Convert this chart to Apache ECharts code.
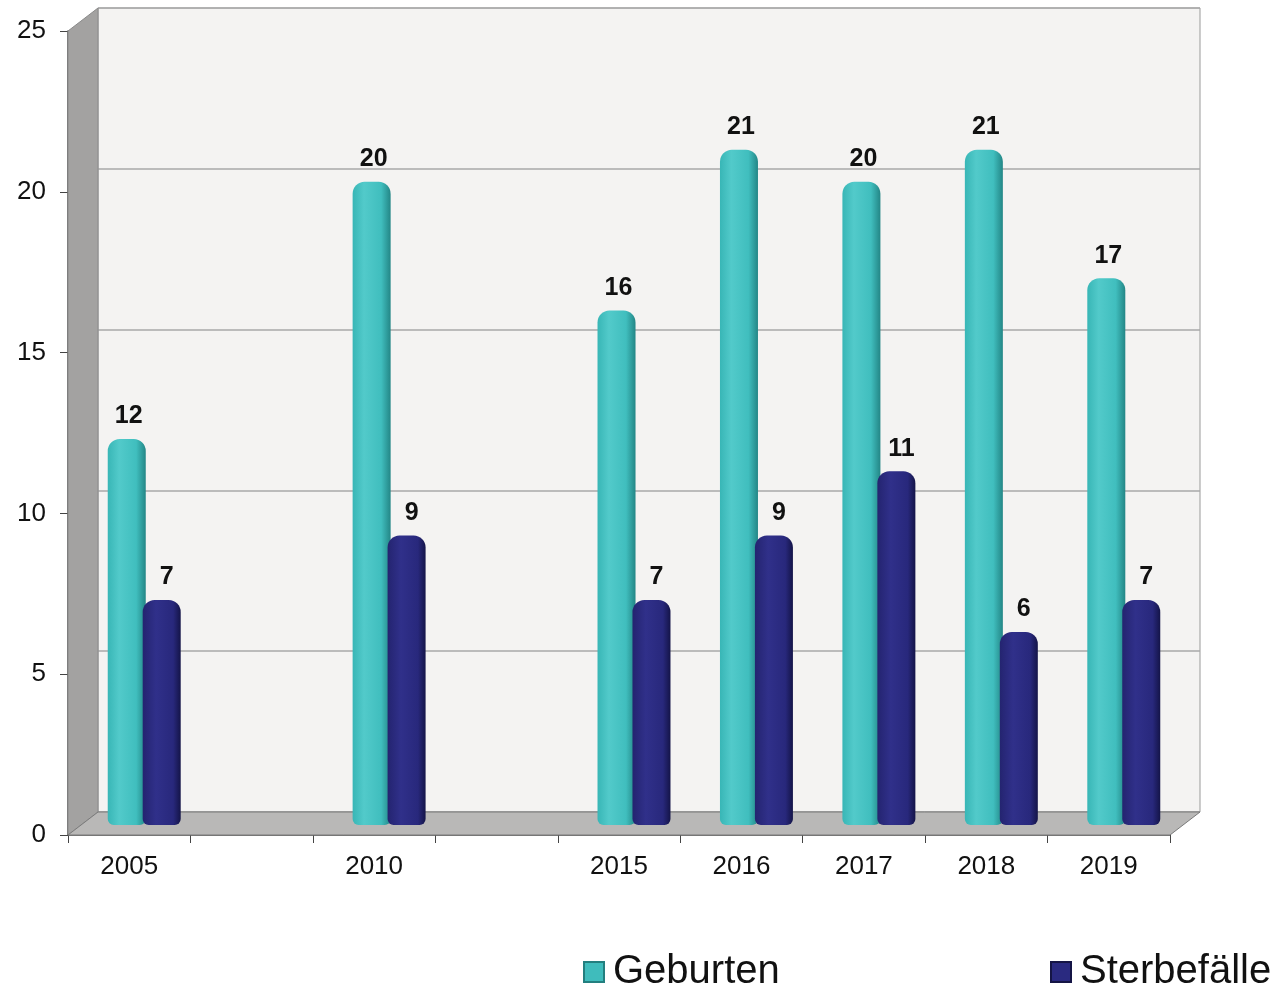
<!DOCTYPE html>
<html>
<head>
<meta charset="utf-8">
<script src="https://cdn.jsdelivr.net/npm/echarts@6/dist/echarts.min.js"></script>
<style>
  html, body { margin: 0; padding: 0; background: #fff; }
  #chart { width: 1274px; height: 986px; }
</style>
</head>
<body>
<div id="chart"></div>
<script>
var years = ['2005', ' ', '2010', '  ', '2015', '2016', '2017', '2018', '2019'];
var geburten = [12, null, 20, null, 16, 21, 20, 21, 17];
var sterbefaelle = [7, null, 9, null, 7, 9, 11, 6, 7];
var yTicks = { min: 0, max: 25, interval: 5 };

var font = 'Liberation Sans, Arial, sans-serif';
var chart = echarts.init(document.getElementById('chart'));

function grad(stops) {
	return new echarts.graphic.LinearGradient(0, 0, 1, 0, stops);
}

function legendAt(left, name, fill, border) {
	return {
		left: left,
		top: 952,
		padding: 0,
		itemWidth: 20,
		itemHeight: 20,
		icon: 'rect',
		textStyle: { fontSize: 40, fontFamily: font, color: '#111', padding: [0, 0, 0, 4] },
		data: [{ name: name, itemStyle: { color: fill, borderColor: border, borderWidth: 2 } }]
	};
}

var option = {
	backgroundColor: '#ffffff',
	animation: false,
	grid: [
		// back wall
		{ left: 98, right: 74, top: 8, bottom: 174, show: true, backgroundColor: '#f4f3f2', borderColor: '#9a9a9a', borderWidth: 1 },
		// bars, mid depth
		{ left: 83, right: 89, top: 21, bottom: 161 },
		// front axes
		{ left: 68, right: 104, top: 31, bottom: 151 }
	],
	graphic: [
		{ type: 'polygon', z: 1, shape: { points: [[68, 31], [98, 8], [98, 812], [68, 835]] },
		  style: { fill: '#a3a2a1', stroke: '#8a8a8a', lineWidth: 1 } },
		{ type: 'polygon', z: 1, shape: { points: [[68, 835], [1170, 835], [1200, 812], [98, 812]] },
		  style: { fill: '#b9b8b7', stroke: '#7a7a7a', lineWidth: 1 } }
	],
	xAxis: [
		{ type: 'category', gridIndex: 0, data: years, show: false },
		{ type: 'category', gridIndex: 1, data: years, show: false },
		{ type: 'category', gridIndex: 2, data: years,
		  axisLine: { show: true, lineStyle: { color: '#444', width: 1.5 } },
		  axisTick: { show: true, length: 8, lineStyle: { color: '#444' } },
		  axisLabel: { color: '#111', fontSize: 26, fontFamily: font, margin: 19 } }
	],
	yAxis: [
		{ type: 'value', gridIndex: 0, min: yTicks.min, max: yTicks.max, interval: yTicks.interval,
		  axisLine: { show: false }, axisTick: { show: false }, axisLabel: { show: false },
		  splitLine: { show: true, lineStyle: { color: '#a8a8a8', width: 1.5 } } },
		{ type: 'value', gridIndex: 1, min: yTicks.min, max: yTicks.max, interval: yTicks.interval, show: false },
		{ type: 'value', gridIndex: 2, min: yTicks.min, max: yTicks.max, interval: yTicks.interval,
		  axisLine: { show: true, lineStyle: { color: '#444', width: 1.5 } },
		  axisTick: { show: true, length: 8, lineStyle: { color: '#444' } },
		  axisLabel: { color: '#111', fontSize: 26, fontFamily: font, margin: 22 },
		  splitLine: { show: false } }
	],
	legend: [
		legendAt(583, 'Geburten', '#3fbcbc', '#237f7f'),
		legendAt(1050, 'Sterbefälle', '#2a2a80', '#151545')
	],
	series: [
		{
			name: 'Geburten', type: 'bar', xAxisIndex: 1, yAxisIndex: 1,
			data: geburten, barWidth: 38, barGap: '-8%', z: 3,
			itemStyle: {
				borderRadius: [12, 12, 6, 6],
				color: grad([
					{ offset: 0, color: '#38b6b6' },
					{ offset: 0.3, color: '#52caca' },
					{ offset: 0.75, color: '#40bebe' },
					{ offset: 1, color: '#238686' }
				])
			},
			label: { show: true, position: 'top', distance: 10, offset: [2, 0], color: '#111', fontSize: 25, fontWeight: 'bold', fontFamily: font }
		},
		{
			name: 'Sterbefälle', type: 'bar', xAxisIndex: 1, yAxisIndex: 1,
			data: sterbefaelle, barWidth: 38, z: 4,
			itemStyle: {
				borderRadius: [12, 12, 6, 6],
				color: grad([
					{ offset: 0, color: '#242470' },
					{ offset: 0.35, color: '#30308a' },
					{ offset: 0.8, color: '#28287c' },
					{ offset: 1, color: '#141448' }
				])
			},
			label: { show: true, position: 'top', distance: 10, offset: [5, 0], color: '#111', fontSize: 25, fontWeight: 'bold', fontFamily: font }
		}
	]
};

chart.setOption(option);
</script>
</body>
</html>
